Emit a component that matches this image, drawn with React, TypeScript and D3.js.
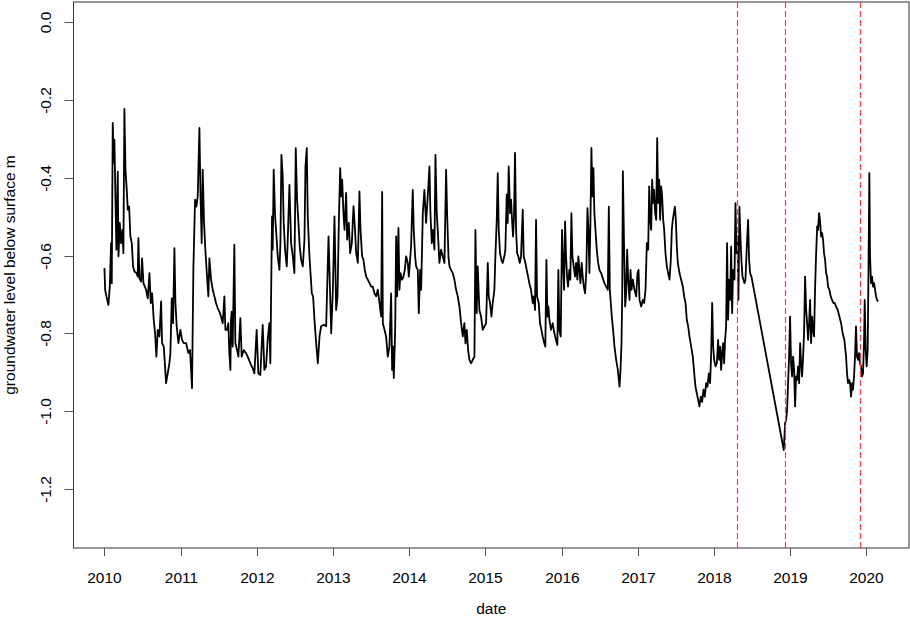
import * as d3 from "d3";

// groundwater level readings: [decimal year, level below surface in m]
const y2010: [number, number][] = [
  [2010.0, -0.632], [2010.009, -0.688], [2010.026, -0.705], [2010.052, -0.727], [2010.07, -0.68],
  [2010.087, -0.568], [2010.096, -0.671], [2010.109, -0.259], [2010.122, -0.362], [2010.131, -0.302],
  [2010.144, -0.448], [2010.157, -0.585], [2010.175, -0.384], [2010.184, -0.602], [2010.201, -0.516],
  [2010.219, -0.568], [2010.236, -0.534], [2010.249, -0.594], [2010.262, -0.223], [2010.276, -0.379],
  [2010.293, -0.431], [2010.306, -0.482], [2010.324, -0.474], [2010.341, -0.551], [2010.359, -0.568],
  [2010.376, -0.628], [2010.394, -0.641], [2010.42, -0.645], [2010.437, -0.654], [2010.446, -0.555],
  [2010.459, -0.658], [2010.481, -0.667], [2010.494, -0.607], [2010.512, -0.671], [2010.547, -0.688],
  [2010.569, -0.71], [2010.591, -0.645], [2010.608, -0.722], [2010.626, -0.697], [2010.647, -0.765],
  [2010.665, -0.8], [2010.682, -0.86], [2010.7, -0.791], [2010.722, -0.808], [2010.744, -0.718],
  [2010.757, -0.825], [2010.779, -0.834], [2010.796, -0.885], [2010.809, -0.928], [2010.831, -0.903],
  [2010.853, -0.877], [2010.866, -0.851], [2010.884, -0.71], [2010.901, -0.774], [2010.919, -0.581],
  [2010.932, -0.722], [2010.949, -0.782], [2010.971, -0.825], [2010.997, -0.791],
];
const y2011: [number, number][] = [
  [2011.019, -0.817], [2011.041, -0.825], [2011.072, -0.825], [2011.102, -0.851], [2011.124, -0.843],
  [2011.15, -0.941], [2011.168, -0.632], [2011.19, -0.456], [2011.207, -0.474], [2011.225, -0.448],
  [2011.247, -0.272], [2011.26, -0.431], [2011.277, -0.568], [2011.29, -0.379], [2011.308, -0.516],
  [2011.325, -0.585], [2011.347, -0.654], [2011.365, -0.705], [2011.378, -0.607], [2011.4, -0.662],
  [2011.422, -0.688], [2011.444, -0.705], [2011.465, -0.722], [2011.487, -0.735], [2011.509, -0.744],
  [2011.531, -0.757], [2011.553, -0.774], [2011.575, -0.705], [2011.588, -0.791], [2011.61, -0.791],
  [2011.627, -0.774], [2011.64, -0.851], [2011.654, -0.894], [2011.662, -0.765], [2011.671, -0.744],
  [2011.684, -0.834], [2011.706, -0.572], [2011.719, -0.825], [2011.741, -0.843], [2011.759, -0.86],
  [2011.785, -0.761], [2011.802, -0.86], [2011.829, -0.843], [2011.859, -0.851], [2011.881, -0.86],
  [2011.916, -0.877], [2011.947, -0.89], [2011.969, -0.903], [2011.999, -0.791],
];
const y2012: [number, number][] = [
  [2012.021, -0.903], [2012.047, -0.907], [2012.078, -0.778], [2012.1, -0.894], [2012.122, -0.885],
  [2012.143, -0.817], [2012.165, -0.774], [2012.178, -0.877], [2012.2, -0.499], [2012.209, -0.585],
  [2012.222, -0.379], [2012.24, -0.499], [2012.253, -0.534], [2012.275, -0.602], [2012.297, -0.637],
  [2012.31, -0.568], [2012.323, -0.341], [2012.34, -0.396], [2012.353, -0.516], [2012.371, -0.585],
  [2012.393, -0.628], [2012.406, -0.559], [2012.428, -0.418], [2012.45, -0.568], [2012.472, -0.602],
  [2012.493, -0.645], [2012.511, -0.324], [2012.528, -0.456], [2012.546, -0.516], [2012.563, -0.577],
  [2012.581, -0.611], [2012.603, -0.628], [2012.625, -0.559], [2012.638, -0.371], [2012.655, -0.324],
  [2012.668, -0.499], [2012.69, -0.602], [2012.721, -0.697], [2012.738, -0.705], [2012.756, -0.765],
  [2012.778, -0.825], [2012.8, -0.877], [2012.822, -0.808], [2012.843, -0.782], [2012.878, -0.778],
  [2012.909, -0.782], [2012.94, -0.551], [2012.975, -0.8], [2012.997, -0.688],
];
const y2013: [number, number][] = [
  [2013.018, -0.499], [2013.04, -0.74], [2013.058, -0.705], [2013.075, -0.516], [2013.093, -0.375],
  [2013.106, -0.448], [2013.119, -0.405], [2013.136, -0.491], [2013.15, -0.534], [2013.171, -0.439],
  [2013.185, -0.559], [2013.206, -0.516], [2013.224, -0.594], [2013.246, -0.568], [2013.268, -0.473],
  [2013.285, -0.525], [2013.303, -0.594], [2013.325, -0.619], [2013.346, -0.435], [2013.36, -0.534],
  [2013.381, -0.602], [2013.399, -0.611], [2013.416, -0.637], [2013.434, -0.654], [2013.456, -0.662],
  [2013.478, -0.671], [2013.5, -0.68], [2013.521, -0.68], [2013.543, -0.697], [2013.565, -0.705],
  [2013.587, -0.688], [2013.609, -0.722], [2013.631, -0.757], [2013.644, -0.436], [2013.653, -0.774],
  [2013.675, -0.791], [2013.696, -0.808], [2013.718, -0.86], [2013.74, -0.834], [2013.762, -0.697],
  [2013.775, -0.894], [2013.784, -0.834], [2013.797, -0.915], [2013.815, -0.791], [2013.828, -0.551],
  [2013.841, -0.705], [2013.858, -0.529], [2013.871, -0.688], [2013.885, -0.645], [2013.906, -0.662],
  [2013.924, -0.654], [2013.941, -0.637], [2013.959, -0.602], [2013.981, -0.619], [2013.994, -0.654],
];
const y2014: [number, number][] = [
  [2014.011, -0.611], [2014.024, -0.576], [2014.046, -0.431], [2014.059, -0.534], [2014.077, -0.602],
  [2014.09, -0.628], [2014.112, -0.637], [2014.125, -0.748], [2014.143, -0.637], [2014.156, -0.688],
  [2014.178, -0.491], [2014.199, -0.431], [2014.221, -0.516], [2014.243, -0.448], [2014.265, -0.371],
  [2014.278, -0.491], [2014.296, -0.568], [2014.309, -0.534], [2014.331, -0.585], [2014.344, -0.341],
  [2014.361, -0.491], [2014.374, -0.534], [2014.396, -0.619], [2014.418, -0.585], [2014.44, -0.602],
  [2014.462, -0.619], [2014.484, -0.379], [2014.497, -0.491], [2014.515, -0.602], [2014.528, -0.628],
  [2014.549, -0.637], [2014.571, -0.645], [2014.593, -0.662], [2014.615, -0.688], [2014.637, -0.705],
  [2014.659, -0.731], [2014.681, -0.774], [2014.703, -0.808], [2014.724, -0.774], [2014.738, -0.826],
  [2014.755, -0.791], [2014.773, -0.843], [2014.79, -0.868], [2014.812, -0.877], [2014.834, -0.868],
  [2014.856, -0.86], [2014.869, -0.534], [2014.886, -0.748], [2014.899, -0.628], [2014.921, -0.74],
  [2014.943, -0.757], [2014.965, -0.791], [2014.987, -0.782],
];
const y2015: [number, number][] = [
  [2015.009, -0.774], [2015.031, -0.619], [2015.044, -0.705], [2015.061, -0.722], [2015.079, -0.757],
  [2015.096, -0.722], [2015.118, -0.688], [2015.131, -0.602], [2015.149, -0.508], [2015.162, -0.388],
  [2015.175, -0.534], [2015.192, -0.594], [2015.21, -0.611], [2015.227, -0.619], [2015.249, -0.602],
  [2015.262, -0.585], [2015.28, -0.443], [2015.293, -0.516], [2015.306, -0.371], [2015.324, -0.491],
  [2015.337, -0.456], [2015.35, -0.508], [2015.363, -0.551], [2015.376, -0.499], [2015.389, -0.336],
  [2015.403, -0.534], [2015.416, -0.594], [2015.433, -0.602], [2015.451, -0.619], [2015.468, -0.602],
  [2015.49, -0.482], [2015.503, -0.602], [2015.525, -0.619], [2015.542, -0.637], [2015.56, -0.654],
  [2015.577, -0.671], [2015.599, -0.688], [2015.621, -0.722], [2015.634, -0.705], [2015.652, -0.74],
  [2015.665, -0.508], [2015.678, -0.705], [2015.7, -0.722], [2015.717, -0.774], [2015.735, -0.791],
  [2015.752, -0.808], [2015.774, -0.826], [2015.787, -0.834], [2015.801, -0.611], [2015.814, -0.757],
  [2015.827, -0.731], [2015.84, -0.765], [2015.862, -0.791], [2015.884, -0.774], [2015.906, -0.8],
  [2015.927, -0.817], [2015.945, -0.83], [2015.958, -0.637], [2015.971, -0.791], [2015.989, -0.808],
];
const y2016: [number, number][] = [
  [2016.006, -0.534], [2016.019, -0.619], [2016.033, -0.688], [2016.046, -0.512], [2016.059, -0.602],
  [2016.072, -0.654], [2016.085, -0.68], [2016.102, -0.637], [2016.115, -0.662], [2016.129, -0.491],
  [2016.142, -0.602], [2016.159, -0.628], [2016.177, -0.654], [2016.19, -0.619], [2016.207, -0.662],
  [2016.22, -0.602], [2016.234, -0.637], [2016.247, -0.671], [2016.264, -0.619], [2016.277, -0.654],
  [2016.291, -0.68], [2016.308, -0.697], [2016.325, -0.637], [2016.339, -0.478], [2016.352, -0.534],
  [2016.365, -0.645], [2016.378, -0.516], [2016.391, -0.323], [2016.404, -0.448], [2016.417, -0.375],
  [2016.43, -0.491], [2016.444, -0.534], [2016.461, -0.585], [2016.479, -0.619], [2016.496, -0.637],
  [2016.518, -0.645], [2016.54, -0.658], [2016.562, -0.671], [2016.584, -0.68], [2016.606, -0.688],
  [2016.619, -0.474], [2016.632, -0.688], [2016.645, -0.722], [2016.658, -0.757], [2016.675, -0.791],
  [2016.693, -0.834], [2016.715, -0.868], [2016.737, -0.894], [2016.759, -0.937], [2016.772, -0.894],
  [2016.785, -0.826], [2016.794, -0.705], [2016.803, -0.383], [2016.82, -0.594], [2016.833, -0.731],
  [2016.846, -0.697], [2016.859, -0.585], [2016.872, -0.662], [2016.89, -0.714], [2016.903, -0.637],
  [2016.916, -0.688], [2016.933, -0.662], [2016.955, -0.688], [2016.977, -0.705], [2016.995, -0.645],
];
const y2017: [number, number][] = [
  [2017.008, -0.637], [2017.021, -0.714], [2017.043, -0.731], [2017.065, -0.714], [2017.082, -0.722],
  [2017.1, -0.688], [2017.117, -0.568], [2017.135, -0.585], [2017.148, -0.422], [2017.161, -0.508],
  [2017.174, -0.534], [2017.187, -0.405], [2017.2, -0.465], [2017.213, -0.431], [2017.226, -0.491],
  [2017.24, -0.508], [2017.253, -0.298], [2017.266, -0.465], [2017.279, -0.405], [2017.292, -0.508],
  [2017.305, -0.422], [2017.318, -0.448], [2017.332, -0.508], [2017.345, -0.534], [2017.362, -0.594],
  [2017.38, -0.628], [2017.397, -0.645], [2017.415, -0.662], [2017.432, -0.611], [2017.445, -0.534],
  [2017.458, -0.508], [2017.472, -0.491], [2017.485, -0.474], [2017.498, -0.508], [2017.511, -0.577],
  [2017.524, -0.619], [2017.546, -0.645], [2017.568, -0.662], [2017.59, -0.68], [2017.607, -0.705],
  [2017.625, -0.722], [2017.642, -0.765], [2017.66, -0.782], [2017.677, -0.808], [2017.699, -0.834],
  [2017.721, -0.86], [2017.743, -0.911], [2017.756, -0.937], [2017.773, -0.954], [2017.791, -0.971],
  [2017.808, -0.988], [2017.826, -0.963], [2017.843, -0.976], [2017.861, -0.945], [2017.878, -0.963],
  [2017.896, -0.928], [2017.913, -0.937], [2017.931, -0.903], [2017.948, -0.928], [2017.962, -0.851],
  [2017.975, -0.722], [2017.988, -0.834],
];
const y2018: [number, number][] = [
  [2018.001, -0.868], [2018.018, -0.885], [2018.036, -0.877], [2018.053, -0.817], [2018.066, -0.868],
  [2018.079, -0.834], [2018.093, -0.894], [2018.106, -0.851], [2018.119, -0.825], [2018.132, -0.877],
  [2018.145, -0.817], [2018.158, -0.782], [2018.171, -0.568], [2018.184, -0.765], [2018.198, -0.662],
  [2018.211, -0.714], [2018.224, -0.577], [2018.237, -0.748], [2018.25, -0.637], [2018.268, -0.662],
  [2018.281, -0.465], [2018.294, -0.594], [2018.307, -0.551], [2018.32, -0.714], [2018.333, -0.474],
  [2018.346, -0.551], [2018.359, -0.611], [2018.373, -0.654], [2018.386, -0.662], [2018.399, -0.671],
  [2018.412, -0.662], [2018.43, -0.577], [2018.447, -0.508], [2018.46, -0.611], [2018.473, -0.645],
  [2018.491, -0.654],
  // logger gap, next reading in december
  [2018.915, -1.1], [2018.933, -1.031], [2018.946, -1.023], [2018.959, -0.997], [2018.972, -0.928],
  [2018.985, -0.86], [2018.998, -0.757],
];
const y2019: [number, number][] = [
  [2019.011, -0.877], [2019.024, -0.911], [2019.038, -0.86], [2019.051, -0.894], [2019.064, -0.988],
  [2019.077, -0.911], [2019.09, -0.92], [2019.103, -0.885], [2019.117, -0.928], [2019.13, -0.825],
  [2019.143, -0.877], [2019.156, -0.911], [2019.169, -0.86], [2019.182, -0.8], [2019.195, -0.654],
  [2019.209, -0.739], [2019.222, -0.774], [2019.235, -0.817], [2019.248, -0.774], [2019.261, -0.714],
  [2019.274, -0.825], [2019.287, -0.757], [2019.3, -0.791], [2019.313, -0.808], [2019.326, -0.688],
  [2019.339, -0.602], [2019.354, -0.525], [2019.366, -0.534], [2019.379, -0.491], [2019.392, -0.512],
  [2019.405, -0.551], [2019.418, -0.542], [2019.431, -0.559], [2019.444, -0.594], [2019.458, -0.611],
  [2019.471, -0.645], [2019.484, -0.654], [2019.497, -0.68], [2019.514, -0.688], [2019.532, -0.705],
  [2019.549, -0.714], [2019.567, -0.722], [2019.584, -0.722], [2019.602, -0.731], [2019.624, -0.74],
  [2019.646, -0.757], [2019.668, -0.774], [2019.689, -0.8], [2019.711, -0.817], [2019.733, -0.86],
  [2019.746, -0.903], [2019.759, -0.928], [2019.773, -0.92], [2019.786, -0.928], [2019.799, -0.963],
  [2019.812, -0.928], [2019.825, -0.945], [2019.838, -0.911], [2019.851, -0.86], [2019.864, -0.782],
  [2019.877, -0.86], [2019.891, -0.868], [2019.904, -0.851], [2019.917, -0.877], [2019.93, -0.885],
  [2019.943, -0.911], [2019.956, -0.903], [2019.969, -0.825], [2019.978, -0.714], [2019.991, -0.843],
];
const y2020: [number, number][] = [
  [2020.004, -0.885], [2020.017, -0.843], [2020.026, -0.671], [2020.039, -0.388], [2020.048, -0.602],
  [2020.061, -0.671], [2020.074, -0.654], [2020.087, -0.68], [2020.101, -0.671], [2020.114, -0.688],
  [2020.127, -0.705], [2020.14, -0.714], [2020.153, -0.718],
];

const markerDates = ["2018-04-23", "2018-12-08", "2019-11-30"];
const yTicks = [0, -0.2, -0.4, -0.6, -0.8, -1.0, -1.2];
const yLimits: [number, number] = [-1.3, 0];

const series = [
  ...y2010, ...y2011, ...y2012, ...y2013, ...y2014, ...y2015,
  ...y2016, ...y2017, ...y2018, ...y2019, ...y2020,
];

const toDate = (t: number) => {
  const yr = Math.floor(t);
  const a = new Date(yr, 0, 1).getTime();
  const b = new Date(yr + 1, 0, 1).getTime();
  return new Date(a + (t - yr) * (b - a));
};

const W = 910;
const H = 624;
const box = { left: 73.5, right: 909, top: 2, bottom: 548 };
const font = "'Liberation Sans', Arial, sans-serif";

export default function App() {
  // R style 4% padding on both axes
  const [t0, t1] = d3.extent(series, (d) => toDate(d[0]).getTime()) as [number, number];
  const padX = (t1 - t0) * 0.04;
  const x = d3
    .scaleTime()
    .domain([new Date(t0 - padX), new Date(t1 + padX)])
    .range([box.left, box.right]);

  const padY = (yLimits[1] - yLimits[0]) * 0.04;
  const y = d3
    .scaleLinear()
    .domain([yLimits[0] - padY, yLimits[1] + padY])
    .range([box.bottom, box.top]);

  const line = d3
    .line<[number, number]>()
    .x((d) => x(toDate(d[0])))
    .y((d) => y(d[1]));

  const xTicks = d3.timeYear.range(new Date(2010, 0, 1), new Date(2020, 1, 1));
  const markers = markerDates.map((s) => {
    const [yy, mm, dd] = s.split("-").map(Number);
    return { key: s, x: Math.round(x(new Date(yy, mm - 1, dd))) + 0.5 };
  });

  return (
    <svg
      width={W}
      height={H}
      style={{ position: "absolute", left: 0, top: 0, background: "#fff" }}
      fontFamily={font}
    >
      <rect
        x={box.left}
        y={box.top}
        width={box.right - box.left}
        height={box.bottom - box.top}
        fill="none"
        stroke="#333"
        strokeWidth={1}
      />
      <path
        d={line(series) ?? ""}
        fill="none"
        stroke="#000"
        strokeWidth={1.8}
        strokeLinejoin="round"
      />
      {markers.map((m) => (
        <path
          key={m.key}
          d={`M${m.x},${box.top}V${box.bottom}`}
          fill="none"
          stroke="#ff3b3b"
          strokeWidth={1.2}
          strokeDasharray="6 3"
        />
      ))}
      {/* x axis */}
      {xTicks.map((d) => {
        const xx = Math.round(x(d)) + 0.5;
        return (
          <g key={d.getFullYear()}>
            <line x1={xx} x2={xx} y1={box.bottom} y2={box.bottom + 8} stroke="#555" />
            <text x={xx} y={583} textAnchor="middle" fontSize={15.5} fill="#000">
              {d.getFullYear()}
            </text>
          </g>
        );
      })}
      {/* y axis */}
      {yTicks.map((v) => {
        const yy = Math.round(y(v)) + 0.5;
        return (
          <g key={v}>
            <line x1={box.left - 9} x2={box.left} y1={yy} y2={yy} stroke="#555" />
            <text
              transform={`translate(51,${yy}) rotate(-90)`}
              textAnchor="middle"
              fontSize={15.5}
              fill="#000"
            >
              {v.toFixed(1)}
            </text>
          </g>
        );
      })}
      <text x={(box.left + box.right) / 2} y={614} textAnchor="middle" fontSize={15.5} fill="#000">
        date
      </text>
      <text
        transform={`translate(15,${(box.top + box.bottom) / 2}) rotate(-90)`}
        textAnchor="middle"
        fontSize={15.5}
        fill="#000"
      >
        groundwater level below surface m
      </text>
    </svg>
  );
}
